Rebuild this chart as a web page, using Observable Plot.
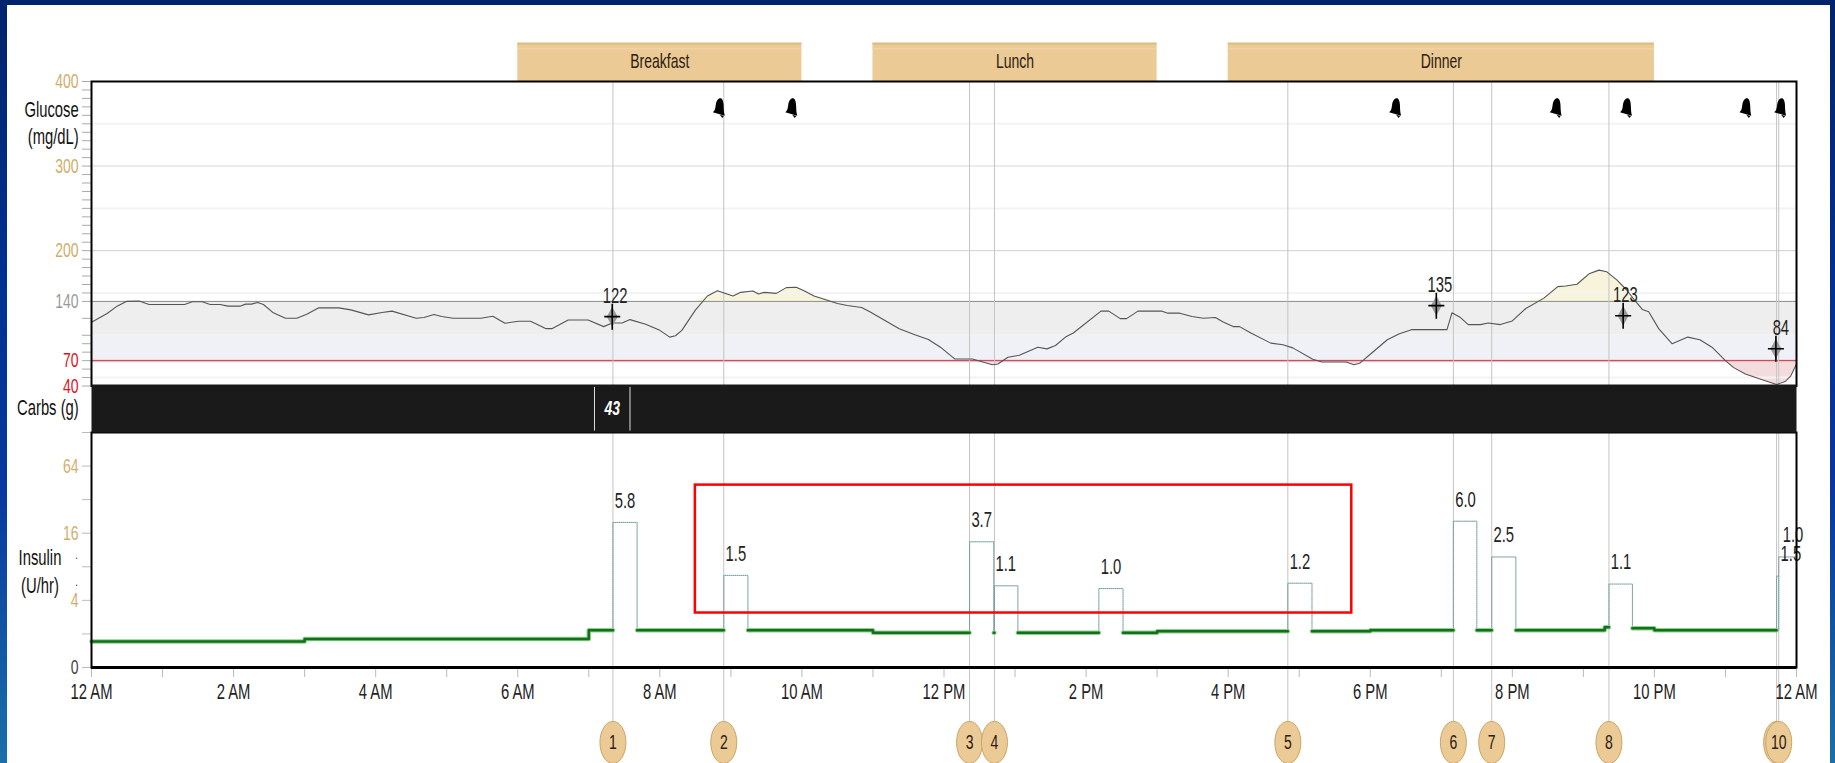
<!DOCTYPE html>
<html>
<head>
<meta charset="utf-8">
<script src="https://cdn.jsdelivr.net/npm/d3@7"></script>
<script src="https://cdn.jsdelivr.net/npm/@observablehq/plot@0.6"></script>
<style>
html,body{margin:0;padding:0;width:1835px;height:763px;overflow:hidden;background:linear-gradient(180deg,#00246c 0%,#00308f 35%,#0838a0 65%,#1a70a8 100%)}
#sheet{position:absolute;left:7px;top:5px;width:1823px;height:758px;background:#fff}
#chart svg{position:absolute;left:0;top:0;max-width:none;background:transparent}
</style>
</head>
<body>
<div id="sheet"></div>
<div id="chart"></div>
<script>
// ---- Glucose trace (hours after midnight, mg/dL)
const glucoseHours = [0,.22,.36,.49,.67,.81,1.31,1.42,1.56,1.67,1.81,1.92,2.09,2.17,2.25,2.34,2.42,2.56,2.73,2.89,3.03,3.2,3.48,3.65,3.9,4.09,4.23,4.57,4.68,4.82,4.93,5.09,5.48,5.65,5.82,6.01,6.18,6.4,6.48,6.71,6.99,7.21,7.33,7.47,7.58,7.8,8,8.14,8.22,8.31,8.5,8.67,8.81,9.03,9.14,9.31,9.39,9.47,9.64,9.78,9.92,10.03,10.17,10.5,10.64,10.84,10.95,11.37,11.59,11.78,11.95,12.15,12.4,12.68,12.76,12.9,13.06,13.32,13.45,13.57,13.71,13.82,14.21,14.32,14.48,14.57,14.73,15.07,15.15,15.32,15.49,15.65,15.82,15.93,16.07,16.16,16.32,16.6,16.77,16.91,17.19,17.32,17.66,17.77,17.85,18.05,18.24,18.41,18.58,19.08,19.15,19.27,19.38,19.55,19.66,19.83,20,20.19,20.44,20.64,20.75,20.91,21.08,21.22,21.33,21.47,21.61,21.72,21.83,21.92,22.06,22.25,22.47,22.64,22.81,23,23.11,23.28,23.56,23.72,23.84,23.92,24];
const glucoseValues = [115.3,125.7,134.4,140,140.4,136.4,136.4,139.6,139.6,136.4,136.4,134.4,134.4,136.8,136.8,138.8,136.4,126.5,120.1,120.1,124.9,132.4,132.4,130,124.1,126.9,128.5,120.1,120.9,124.5,122.1,120.1,120.1,122.5,114.2,116.5,116.5,107.8,107.8,118.1,118.1,110.2,114.5,114.5,118.5,113,105.8,97.8,99.4,105.8,129.7,146.4,152.7,146.4,150.7,152.3,148.7,150.7,149.5,156.3,156.7,152.7,146.4,137.6,135.2,132.8,128.1,107.8,100.6,95,85.9,72,72,65.2,66,74,76.4,85.9,83.9,87.9,97.8,102.6,128.5,128.5,119.7,119.7,128.5,128.5,126.1,126.1,122.1,120.1,120.9,115.7,110.2,110.2,102.6,90.7,88.7,85.1,71.6,68.4,68.4,65.2,66.8,81.1,94.7,101.8,106.6,106.6,126.5,120.9,112.6,112.6,114.5,112.6,116.9,131.6,143.6,157.5,158.3,160.3,172.6,177,175,165.5,153.5,141.6,130.5,127.7,107.8,89.9,97.8,94.7,85.9,70,62,54.1,46.1,41.8,45.3,52.1,66];

// ---- Meter readings
const meterHours = [7.33,18.93,21.56,23.71];
const meterValues = [122,135,123,84];
const meterLabelHours = [7.37,18.98,21.59,23.78];

// ---- Alerts
const alertHours = [8.83,9.85,18.35,20.61,21.6,23.28,23.77];
const alertLevel = [369,369,369,369,369,369,369];

// ---- Meals
const mealNames = ["Breakfast","Lunch","Dinner"];
const mealStart = [6,11,16];
const mealEnd = [10,15,22];

// ---- Axis ticks
const glucoseMinor = [400,390,380,370,360,350,340,330,320,310,300,290,280,270,260,250,240,230,220,210,200,190,180,170,160,150,140,120,100,90,80,70,60,50,40];
const glucoseTan = [400,300,200];
const glucoseGray = [140];
const glucoseRed = [70,40];
const gridFaint = [350,250,150,50];
const insulinMinor = [128,64,32,16,8,4,2,1];
const insulinTan = [64,16,4];
const insulinZero = [1];
const hourTicks = d3.range(0,25);
const timeTicks = [0,2,4,6,8,10,12,14,16,18,20,22,24];
const timeLabels = ["12 AM","2 AM","4 AM","6 AM","8 AM","10 AM","12 PM","2 PM","4 PM","6 PM","8 PM","10 PM","12 AM"];

// ---- Basal insulin (NaN = gap while a bolus runs)
const basalHours = [0,3,7,7.34,NaN,7.68,8.9,NaN,9.24,11,12.36,NaN,12.7,12.71,NaN,13.04,14.18,NaN,14.52,15,16.84,NaN,17.18,18,19.17,NaN,19.5,19.71,NaN,20.05,21.3,21.36,NaN,21.69,22,23.72];
const basalRates = [1.71,1.8,2.16,2.16,NaN,2.16,2.16,NaN,2.16,2.05,2.05,NaN,2.05,2.05,NaN,2.05,2.05,NaN,2.05,2.11,2.11,NaN,2.11,2.16,2.16,NaN,2.16,2.16,NaN,2.16,2.3,2.3,NaN,2.25,2.16,2.16];

// ---- Boluses
const bolusStart = [7.34,8.9,12.36,12.71,14.18,16.84,19.17,19.71,21.36,23.72,23.75];
const bolusEnd = [7.68,9.24,12.7,13.04,14.52,17.18,19.5,20.05,21.69,23.75,24];
const bolusPeak = [20,6.7,13.4,5.4,5.1,5.7,20.5,9.8,5.6,6.6,9.8];
const bolusBase = [2.16,2.16,2.05,2.05,2.05,2.11,2.16,2.16,2.3,2.16,6.6];
const bolusLabels = ["5.8","1.5","3.7","1.1","1.0","1.2","6.0","2.5","1.1","1.5","1.0"];
const bolusLabelHours = [7.51,9.07,12.53,12.87,14.35,17.01,19.34,19.88,21.53,23.92,23.95];

// ---- Event markers
const eventHours = [7.34,8.9,12.36,12.71,16.84,19.17,19.71,21.36,23.72,23.75];
const eventNames = ["1","2","3","4","5","6","7","8","9","10"];
const eventLevel = 0.213;

// ---- Carbs
const carbHours = [7.33];
const carbValues = ["43"];
const carbEdges = [7.08,7.58];

// ---- Highlight box (hours, U/hr)
const boxHours = [8.5,17.74];
const boxRates = [3.08,43.2];

// ---- Side labels
const glucoseTitle = ["Glucose","(mg/dL)"];
const glucoseTitleLevel = [366.5,334.5];
const insulinTitle = ["Insulin","(U/hr)"];
const insulinTitleRate = [9.6,5.4];
const strayDotRates = [10.2,5.9];

const glucoseRows = glucoseHours.map((h,i)=>({h,v:glucoseValues[i]}));
const basalRows = basalHours.map((h,i)=>({h,r:basalRates[i]}));
const bolusRows = bolusStart.flatMap((s,i)=>[
  {b:i,h:s,r:bolusBase[i]},{b:i,h:s,r:bolusPeak[i]},{b:i,h:bolusEnd[i],r:bolusPeak[i]},{b:i,h:bolusEnd[i],r:bolusBase[i]}
]);

// ---- Custom glyphs
const bell = {draw(c){
  c.moveTo(1.5,-9.5);
  c.bezierCurveTo(3.5,-9.5,4.5,-7,4.8,-3);
  c.bezierCurveTo(5,1,5,5,6,8);
  c.lineTo(-6,4.5);
  c.bezierCurveTo(-3.5,3,-3.5,0,-3,-3);
  c.bezierCurveTo(-2.5,-7,-.5,-9.5,1.5,-9.5);
  c.closePath();
  c.moveTo(1,7); c.lineTo(5,8.3); c.lineTo(3.5,10.3); c.closePath();
}};
const ellipse = (rx,ry)=>({draw(c){
  const k=0.5523;
  c.moveTo(rx,0);
  c.bezierCurveTo(rx,ry*k,rx*k,ry,0,ry);
  c.bezierCurveTo(-rx*k,ry,-rx,ry*k,-rx,0);
  c.bezierCurveTo(-rx,-ry*k,-rx*k,-ry,0,-ry);
  c.bezierCurveTo(rx*k,-ry,rx,-ry*k,rx,0);
  c.closePath();
}});
const lozenge = {draw(c){c.moveTo(0,-10);c.lineTo(5.5,0);c.lineTo(0,10);c.lineTo(-5.5,0);c.closePath();}};
const cross = {draw(c){c.moveTo(-8,0);c.lineTo(8,0);c.moveTo(0,-13);c.lineTo(0,13);}};

const INK = "#222";
const TAN = "#cdae6c";
function panel(top, bottom, y, marks){
  const svg = Plot.plot({
    width:1835, height:763,
    marginLeft:91, marginRight:39, marginTop:top, marginBottom:763-bottom,
    style:{background:"transparent",fontFamily:"'Liberation Sans',Arial,sans-serif",fontSize:"14px",color:INK},
    x:{domain:[0,24],axis:null},
    y:{...y,axis:null},
    marks
  });
  svg.querySelectorAll("text").forEach(t=>{
    let base = t.getAttribute("transform")||"";
    if(!base && (t.hasAttribute("x")||t.hasAttribute("y"))){
      base = `translate(${t.getAttribute("x")||0},${t.getAttribute("y")||0})`;
      t.removeAttribute("x"); t.removeAttribute("y");
    }
    t.setAttribute("transform",base+" scale(1,1.45)");
  });
  document.getElementById("chart").appendChild(svg);
}
const vRules = (y1,y2)=>Plot.ruleX(eventHours,{y1:()=>y1,y2:()=>y2,stroke:"#c4c4c4",strokeWidth:1});
const titleFont = 14.8;

// Meal banners
panel(43,81,{domain:[0,1]},[
  Plot.rect(mealNames,{x1:(d,i)=>mealStart[i],x2:(d,i)=>mealEnd[i],y1:()=>0,y2:()=>1,fill:"#ecca96"}),
  Plot.ruleY(mealNames,{y:()=>1,x1:(d,i)=>mealStart[i],x2:(d,i)=>mealEnd[i],stroke:"#dcbb80",strokeWidth:2}),
  Plot.ruleY(mealNames,{y:()=>.86,x1:(d,i)=>mealStart[i],x2:(d,i)=>mealEnd[i],stroke:"#f1d8ae",strokeWidth:1}),
  Plot.text(mealNames,{x:(d,i)=>(mealStart[i]+mealEnd[i])/2,y:()=>.52,text:d=>d,fill:"#2a2010",lineAnchor:"middle"})
]);

// Glucose
panel(81,385.5,{domain:[40,400]},[
  Plot.rect([0],{x1:()=>0,x2:()=>24,y1:()=>100,y2:()=>140,fill:"#eeeeee"}),
  Plot.rect([0],{x1:()=>0,x2:()=>24,y1:()=>70,y2:()=>100,fill:"#eff1f6"}),
  Plot.areaY(glucoseRows,{x:"h",y1:()=>140,y2:d=>Math.max(d.v,140),fill:"#f8f4dc"}),
  Plot.areaY(glucoseRows,{x:"h",y1:()=>70,y2:d=>Math.min(d.v,70),fill:"#f5dcdc"}),
  Plot.ruleY(gridFaint,{stroke:"#f3f3f3",strokeWidth:2}),
  Plot.ruleY([300],{stroke:"#e4e4e4",strokeWidth:1.5}),
  Plot.ruleY([200],{stroke:"#cfcfcf",strokeWidth:1}),
  Plot.ruleY([140],{stroke:"#8c8c8c",strokeWidth:1}),
  Plot.ruleY([70],{stroke:"#f8ccd4",strokeWidth:3}),
  Plot.ruleY([70],{stroke:"#b8424f",strokeWidth:1}),
  vRules(40,400),
  Plot.line(glucoseRows,{x:"h",y:"v",stroke:"#555",strokeWidth:1.1}),
  Plot.dot(alertHours,{x:d=>d,y:(d,i)=>alertLevel[i],symbol:bell,r:5,fill:"#000",stroke:"none"}),
  Plot.dot(meterHours,{x:d=>d,y:(d,i)=>meterValues[i],symbol:lozenge,r:5,fill:"#9a9a9a",stroke:"none"}),
  Plot.dot(meterHours,{x:d=>d,y:(d,i)=>meterValues[i],symbol:cross,r:5,fill:"none",stroke:"#000",strokeWidth:1.6}),
  Plot.text(meterValues,{x:(d,i)=>meterLabelHours[i],y:d=>d,dy:-21,text:d=>String(d),fill:INK,fontSize:titleFont,lineAnchor:"middle"}),
  Plot.text(glucoseTitle,{x:()=>-.18,y:(d,i)=>glucoseTitleLevel[i],text:d=>d,textAnchor:"end",fill:"#111",fontSize:titleFont,lineAnchor:"middle"}),
  Plot.axisY({ticks:glucoseMinor,tickSize:9,tickFormat:()=>"",stroke:"#aaa",label:null}),
  Plot.axisY({ticks:glucoseTan,tickSize:0,tickPadding:13,fill:TAN,stroke:"none",label:null}),
  Plot.axisY({ticks:glucoseGray,tickSize:0,tickPadding:13,fill:"#9a9a9a",stroke:"none",label:null}),
  Plot.axisY({ticks:glucoseRed,tickSize:0,tickPadding:13,fill:"#d8141e",stroke:"none",label:null}),
  Plot.frame({stroke:"#000",strokeWidth:2})
]);

// Insulin
panel(432,667,{type:"log",domain:[1,128]},[
  vRules(eventLevel,128),
  Plot.line(bolusRows,{x:"h",y:"r",z:"b",stroke:"#6f9a9a",strokeWidth:1,strokeDasharray:"1,1"}),
  Plot.line(basalRows,{x:"h",y:"r",curve:"step-after",stroke:"#8fd08f",strokeWidth:4.5}),
  Plot.line(basalRows,{x:"h",y:"r",curve:"step-after",stroke:"#13701a",strokeWidth:2.5}),
  Plot.text(bolusLabels,{x:(d,i)=>bolusLabelHours[i],y:(d,i)=>bolusPeak[i],dy:-21.5,text:d=>d,fill:INK,fontSize:titleFont,lineAnchor:"middle"}),
  Plot.rect([0],{x1:()=>boxHours[0],x2:()=>boxHours[1],y1:()=>boxRates[0],y2:()=>boxRates[1],fill:"none",stroke:"#f00",strokeWidth:2.5}),
  Plot.text(insulinTitle,{x:()=>-.725,y:(d,i)=>insulinTitleRate[i],text:d=>d,fill:"#111",fontSize:titleFont,lineAnchor:"middle"}),
  Plot.text(strayDotRates,{x:()=>-.21,y:d=>d,text:()=>".",fill:"#222",fontSize:9,lineAnchor:"middle"}),
  Plot.axisY({ticks:insulinMinor,tickSize:9,tickFormat:()=>"",stroke:"#bbb",label:null}),
  Plot.text(insulinTan,{x:()=>0,y:d=>d,dx:-13,text:d=>String(d),textAnchor:"end",fill:"#d3ad6c",lineAnchor:"middle"}),
  Plot.text(insulinZero,{x:()=>0,y:d=>d,dx:-13,text:()=>"0",textAnchor:"end",fill:"#444",lineAnchor:"middle"}),
  Plot.axisX({ticks:hourTicks,tickSize:10,tickFormat:()=>"",stroke:"#bbb",label:null}),
  Plot.axisX({ticks:timeTicks,tickSize:0,tickPadding:16,tickFormat:d=>timeLabels[timeTicks.indexOf(d)],fill:INK,fontSize:titleFont,stroke:"none",label:null}),
  Plot.frame({stroke:"#000",strokeWidth:2}),
  Plot.ruleY(insulinZero,{stroke:"#000",strokeWidth:3}),
  Plot.dot(eventNames,{x:(d,i)=>eventHours[i],y:()=>eventLevel,symbol:ellipse(13,21),r:5,fill:"#ecca96",stroke:"#c9a566",strokeWidth:1}),
  Plot.text(eventNames.filter(d=>d!=="9"),{x:d=>eventHours[eventNames.indexOf(d)],y:()=>eventLevel,text:d=>d,fill:"#2a2010",lineAnchor:"middle"})
]);

// Carbs
panel(384,432,{domain:[0,1]},[
  Plot.frame({fill:"#1a1a1a"}),
  Plot.ruleX(carbEdges,{y1:()=>.03,y2:()=>.94,stroke:"#ddd",strokeWidth:1}),
  Plot.text(carbValues,{x:(d,i)=>carbHours[i],y:()=>.5,text:d=>d,fill:"#fff",fontWeight:"bold",fontStyle:"italic",lineAnchor:"middle"}),
  Plot.text(["Carbs (g)"],{x:()=>-.18,y:()=>.5,text:d=>d,textAnchor:"end",fill:"#111",fontSize:titleFont,lineAnchor:"middle"})
]);
</script>
</body>
</html>
